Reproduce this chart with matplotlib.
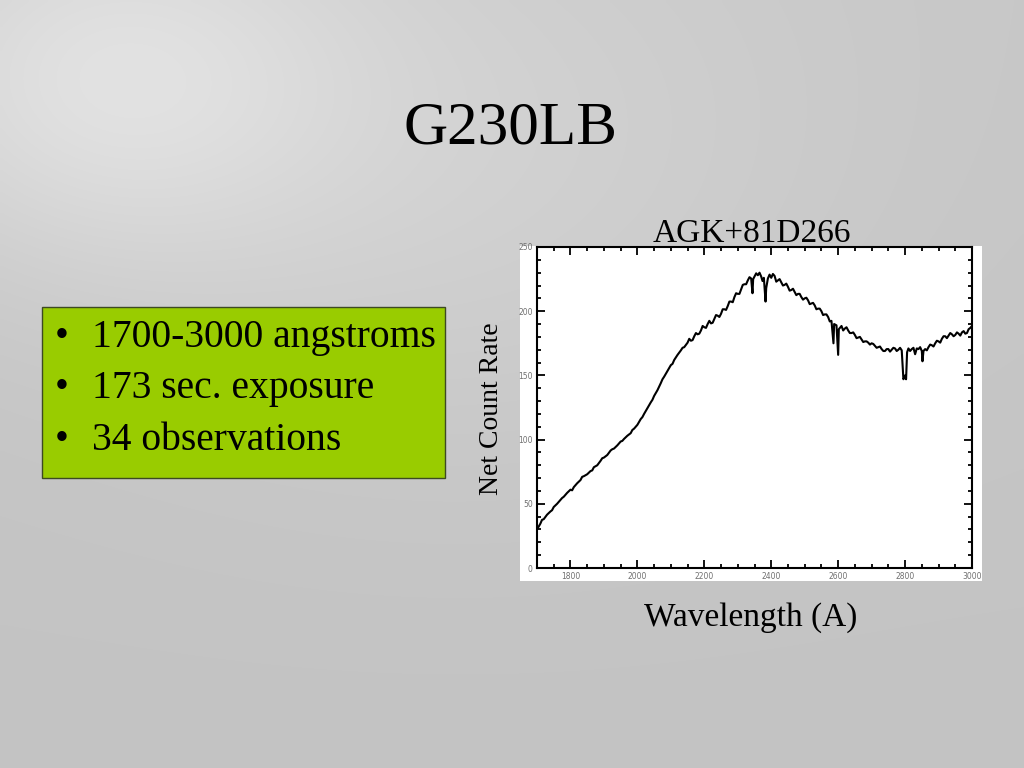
import numpy as np
import matplotlib
matplotlib.use("Agg")
import matplotlib.pyplot as plt
from matplotlib.patches import Rectangle
from matplotlib.ticker import MultipleLocator

# ---------------- data ----------------
title = "G230LB"
star_name = "AGK+81D266"
x_label = "Wavelength (A)"
y_label = "Net Count Rate"
bullets = ["1700-3000 angstroms", "173 sec. exposure", "34 observations"]

x_ticks = [1800, 2000, 2200, 2400, 2600, 2800, 3000]
y_ticks = [0, 50, 100, 150, 200, 250]

wavelength = [
    1700, 1710, 1720, 1730, 1740, 1750, 1760, 1770, 1780, 1790,
    1800, 1810, 1820, 1830, 1840, 1850, 1860, 1870, 1880, 1890,
    1900, 1910, 1920, 1930, 1940, 1950, 1960, 1970, 1980, 1990,
    2000, 2010, 2020, 2030, 2040, 2050, 2060, 2070, 2080, 2090,
    2100, 2110, 2120, 2130, 2140, 2150, 2160, 2170, 2180, 2190,
    2200, 2210, 2220, 2230, 2240, 2250, 2260, 2270, 2280, 2290,
    2300, 2310, 2320, 2330, 2340, 2344, 2346, 2350, 2360, 2365,
    2370, 2374, 2378, 2383, 2385, 2390, 2400, 2405, 2410, 2420,
    2430, 2440, 2450, 2460, 2470, 2480, 2490, 2500, 2510, 2520,
    2530, 2540, 2550, 2560, 2570, 2580, 2586, 2588, 2595, 2600,
    2602, 2610, 2620, 2630, 2640, 2650, 2660, 2670, 2680, 2690,
    2700, 2710, 2720, 2730, 2740, 2750, 2760, 2770, 2780, 2790,
    2795, 2797, 2800, 2803, 2806, 2810, 2820, 2830, 2835, 2840,
    2850, 2852, 2855, 2860, 2870, 2880, 2890, 2900, 2910, 2920,
    2930, 2940, 2950, 2960, 2970, 2980, 2990, 3000,
]
net_count_rate = [
    30.0, 34.5, 38.0, 41.5, 44.0, 47.5, 50.0, 53.0, 55.5, 58.5,
    61.0, 63.0, 66.0, 68.5, 71.5, 73.0, 75.5, 78.5, 80.0, 83.5,
    86.0, 88.0, 91.5, 93.0, 95.5, 98.5, 100.5, 103.0, 105.0, 108.5,
    111.5, 116.0, 120.0, 124.5, 129.0, 134.0, 138.5, 144.0, 149.0, 153.5,
    158.0, 162.0, 166.0, 169.5, 172.0, 175.5, 177.0, 180.5, 182.0, 185.0,
    187.5, 190.0, 190.5, 194.0, 196.5, 198.0, 201.5, 204.0, 207.5, 211.0,
    213.5, 217.0, 221.0, 224.0, 225.5, 214.0, 225.0, 227.0, 228.0, 230.0,
    227.0, 223.5, 226.0, 207.5, 218.0, 225.5, 226.0, 229.0, 227.5, 224.0,
    222.5, 220.5, 219.0, 216.5, 215.0, 213.5, 211.0, 210.0, 208.5, 206.0,
    204.5, 202.0, 200.0, 197.5, 195.5, 192.5, 175.0, 190.0, 189.0, 166.0,
    186.0, 188.5, 186.5, 185.0, 183.0, 181.5, 179.5, 178.0, 176.5, 175.5,
    175.0, 173.0, 172.0, 170.5, 169.0, 170.5, 170.0, 171.0, 170.0, 169.5,
    147.0, 148.0, 150.0, 147.0, 168.0, 171.0, 170.5, 166.5, 171.0, 170.5,
    169.0, 161.0, 169.0, 170.5, 172.0, 173.5, 175.0, 176.5, 178.5, 180.5,
    181.0, 182.0, 181.5, 182.5, 183.5, 182.5, 186.0, 188.5,
]

# in-between samples showing the pixel-to-pixel noise of the spectrum
wavelength_mid = [
    1715, 1745, 1775, 1805, 1835, 1865, 1895, 1925, 1955, 1985,
    2015, 2045, 2075, 2105, 2135,
    2155, 2165, 2175, 2185, 2195, 2205, 2215, 2225, 2235, 2245,
    2255, 2265, 2275, 2285, 2295, 2305, 2315, 2325, 2335, 2355,
    2395, 2415, 2425, 2435, 2445, 2455, 2465, 2475, 2485, 2495,
    2505, 2515, 2525, 2535, 2545, 2555, 2565, 2575, 2615, 2625,
    2635, 2645, 2655, 2665, 2675, 2685, 2695, 2705, 2715, 2725,
    2735, 2745, 2755, 2765, 2775, 2785, 2815, 2825, 2845, 2865,
    2875, 2885, 2895, 2905, 2915, 2925, 2935, 2945, 2955, 2965,
    2975, 2985, 2995,
]
net_count_rate_mid = [
    37.5, 45.0, 54.5, 60.5, 71.0, 76.0, 85.5, 92.5, 99.0, 107.5,
    117.5, 131.0, 147.0, 159.0, 171.5,
    178.5, 177.5, 183.0, 182.5, 188.5, 187.0, 192.5, 191.0, 197.0, 195.5,
    201.5, 201.0, 207.5, 207.0, 214.0, 213.5, 220.5, 221.0, 226.5, 229.5,
    228.5, 223.0, 225.0, 220.0, 221.5, 216.0, 217.5, 212.5, 213.5, 209.0,
    210.5, 205.5, 206.5, 201.5, 202.0, 197.0, 197.5, 192.0, 185.0, 187.5,
    183.0, 183.5, 179.0, 180.0, 176.0, 176.5, 174.0, 174.5, 171.5, 172.5,
    169.0, 170.5, 168.5, 171.5, 169.0, 171.5, 169.0, 171.5, 172.0, 169.5,
    174.0, 172.5, 177.0, 175.5, 180.5, 179.0, 183.0, 180.5, 183.5, 181.0,
    184.5, 183.0, 187.0,
]

# ---------------- figure ----------------
W, H = 1024, 768
fig = plt.figure(figsize=(W / 100, H / 100), dpi=100)
serif = ["Liberation Serif", "DejaVu Serif"]

def fx(px):
    return px / W

def fy(py):
    return 1 - py / H

# background (light grey slide texture)
bg = fig.add_axes([0, 0, 1, 1], zorder=0)
bg.set_axis_off()
gx, gy = np.meshgrid(np.linspace(0, 1, 256), np.linspace(0, 1, 192))
shade = 0.78 + 0.09 * np.exp(-((gx - 0.10) ** 2 + (gy - 0.10) ** 2) / 0.06) \
        + 0.04 * np.exp(-((gx - 0.45) ** 2 + (gy - 0.20) ** 2) / 0.15) \
        - 0.015 * gy
shade = np.clip(shade, 0, 1)
bg.imshow(np.dstack([shade, shade, shade]), extent=[0, 1, 0, 1], aspect="auto",
          origin="upper", interpolation="bilinear", zorder=0)
bg.set_xlim(0, 1)
bg.set_ylim(0, 1)

# green bullet box
bg.add_patch(Rectangle((fx(42), fy(478)), fx(445) - fx(42), fy(307) - fy(478),
                       facecolor="#99cc00", edgecolor="#3d4a22", linewidth=1.0, zorder=2))
# white panel behind the plot
bg.add_patch(Rectangle((fx(520), fy(581)), fx(982) - fx(520), fy(246) - fy(581),
                       facecolor="white", edgecolor="none", zorder=2))

# title
fig.text(fx(510), fy(143), title, ha="center", va="baseline",
         fontsize=44, family=serif, color="black")

for i, b in enumerate(bullets):
    base = [347, 398, 450][i]
    fig.text(fx(55), fy(base), "•", ha="left", va="baseline",
             fontsize=28.5, family=serif, color="black", zorder=3)
    fig.text(fx(92), fy(base), b, ha="left", va="baseline",
             fontsize=28.5, family=serif, color="black", zorder=3)

# spectrum
pairs = sorted(zip(wavelength + wavelength_mid, net_count_rate + net_count_rate_mid))
wl = [p[0] for p in pairs]
rate = [p[1] for p in pairs]

ax = fig.add_axes([fx(537), fy(568), fx(972) - fx(537), fy(247) - fy(568)], zorder=1)
ax.set_facecolor("white")
ax.plot(wl, rate, color="black", linewidth=1.5)
ax.set_xlim(1700, 3000)
ax.set_ylim(0, 250)
ax.set_xticks(x_ticks)
ax.set_yticks(y_ticks)
ax.xaxis.set_minor_locator(MultipleLocator(50))
ax.yaxis.set_minor_locator(MultipleLocator(10))
ax.tick_params(which="both", direction="in", top=True, right=True, width=1.3,
               labelsize=5.5, labelcolor="#707070", pad=3)
ax.tick_params(which="major", length=6)
ax.tick_params(which="minor", length=3)
for s in ax.spines.values():
    s.set_linewidth(1.5)

fig.text(fx(752), fy(242), star_name, ha="center", va="baseline",
         fontsize=24, family=serif, color="black")
fig.text(fx(751), fy(626), x_label, ha="center", va="baseline",
         fontsize=24, family=serif, color="black")
fig.text(fx(491), fy(409), y_label, ha="center", va="center", rotation=90,
         fontsize=20, family=serif, color="black")

fig.savefig("out.png", dpi=100)
